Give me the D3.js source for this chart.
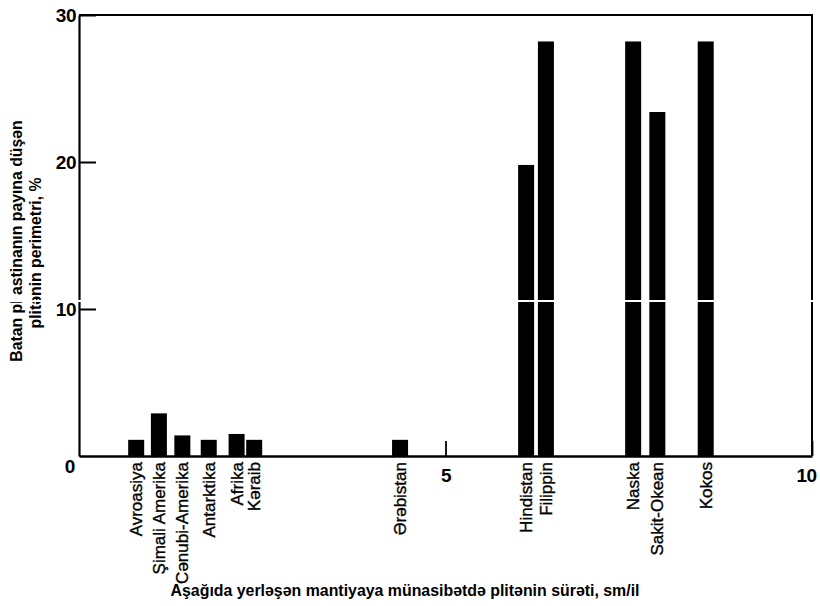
<!DOCTYPE html>
<html>
<head>
<meta charset="utf-8">
<script src="https://cdn.jsdelivr.net/npm/d3@7"></script>
<style>
  html, body { margin: 0; padding: 0; background: #fff; }
  svg { display: block; }
  text { font-family: "Liberation Sans", Arial, Helvetica, sans-serif; fill: #000; }
</style>
</head>
<body>
<svg id="chart" width="820" height="606"></svg>
<script>
// ---- data ----
const categories = ["Avroasiya", "Şimali Amerika", "Cənubi-Amerika", "Antarktika", "Afrika", "Kəraib",
                    "Ərəbistan", "Hindistan", "Filippin", "Naska", "Sakit-Okean", "Kokos"];
const speeds  = [0.78, 1.09, 1.41, 1.77, 2.15, 2.39, 4.38, 6.10, 6.37, 7.56, 7.89, 8.55];   // sm/il
const percents = [1.1, 2.9, 1.4, 1.1, 1.5, 1.1, 1.1, 19.8, 28.2, 28.2, 23.4, 28.2];        // %
const yTicks = [10, 20, 30];
const xTicks = [5, 10];
const yTitleLines = ["Batan pl astinanın payına düşən", "plitənin perimetri, %"];
const xTitle = "Aşağıda yerləşən mantiyaya münasibətdə plitənin sürəti, sm/il";

// ---- layout ----
const svg = d3.select("#chart");
const x = d3.scaleLinear().domain([0, 10]).range([79, 812]);
const y = d3.scaleLinear().domain([0, 30]).range([456, 15]);
const barW = 16;

// frame (top and right)
svg.append("path")
  .attr("d", `M${x(0)},${y(30)} H${x(10)} V${y(0)}`)
  .attr("fill", "none").attr("stroke", "#000").attr("stroke-width", 2);

// bars
svg.append("g").selectAll("rect")
  .data(categories.map((c, i) => ({c, s: speeds[i], p: percents[i]})))
  .join("rect")
  .attr("x", d => x(d.s) - barW / 2)
  .attr("width", barW)
  .attr("y", d => y(d.p))
  .attr("height", d => y(0) - y(d.p))
  .attr("fill", "#000");

// y axis
const yAxis = svg.append("g").attr("transform", `translate(${x(0)},0)`)
  .call(d3.axisLeft(y).tickValues(yTicks).tickSizeInner(-17).tickSizeOuter(0).tickPadding(3).tickFormat(d3.format("d")));
yAxis.select(".domain").attr("stroke-width", 2.2);
yAxis.selectAll(".tick line").attr("stroke-width", 2);
yAxis.selectAll(".tick text").attr("font-size", 19).attr("font-weight", "bold")
  .attr("font-family", "'Liberation Sans', Arial, sans-serif").attr("letter-spacing", -0.5);

// x axis
const xAxis = svg.append("g").attr("transform", `translate(0,${y(0)})`)
  .call(d3.axisBottom(x).tickValues(xTicks).tickSizeInner(-15).tickSizeOuter(0).tickPadding(13).tickFormat(d3.format("d")));
xAxis.select(".domain").attr("stroke-width", 2.4);
xAxis.selectAll(".tick line").attr("stroke-width", 1.8);
xAxis.selectAll(".tick text").attr("font-size", 19).attr("font-weight", "bold")
  .attr("font-family", "'Liberation Sans', Arial, sans-serif").attr("letter-spacing", -0.5);
xAxis.selectAll(".tick").filter(d => d === 10).select("text").attr("dx", -6);

// origin label
svg.append("text").attr("x", x(0) - 9).attr("y", y(0) + 17)
  .attr("text-anchor", "middle").attr("font-size", 19).attr("font-weight", "bold").text("0");

// category labels
svg.append("g").selectAll("text")
  .data(categories.map((c, i) => ({c, s: speeds[i]})))
  .join("text")
  .attr("transform", d => `translate(${x(d.s)},${y(0) + 6}) rotate(-90)`)
  .attr("text-anchor", "end")
  .attr("dy", "0.36em")
  .attr("font-size", 17)
  .attr("stroke", "#000").attr("stroke-width", 0.35)
  .text(d => d.c);

// y title
yTitleLines.forEach((t, i) => {
  svg.append("text")
    .attr("transform", `translate(${16 + i * 19},${241 + i * 12}) rotate(-90)`)
    .attr("text-anchor", "middle").attr("dy", "0.36em")
    .attr("font-size", 15.8).attr("font-weight", "bold")
    .text(t);
});

// x title
svg.append("text").attr("x", 405).attr("y", 596)
  .attr("text-anchor", "middle").attr("font-size", 15.9).attr("font-weight", "bold")
  .text(xTitle);

// scan artefact: thin white line across the figure
svg.append("line").attr("x1", 0).attr("x2", 820).attr("y1", 301).attr("y2", 301)
  .attr("stroke", "#fff").attr("stroke-width", 2);
</script>
</body>
</html>
